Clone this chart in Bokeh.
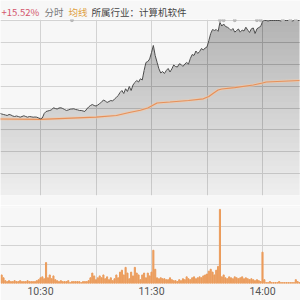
import numpy as np
from bokeh.plotting import figure
from bokeh.layouts import column
from bokeh.models import Range1d, FixedTicker, Grid
from bokeh.core.properties import value
from bokeh.embed import file_html
from bokeh.resources import INLINE

# ---------------- data ----------------
# minute index: 9:30 = 0, 11:30/13:00 = 120, 15:00 = 240
tick_minutes = [60, 120, 180]
tick_labels = ["10:30", "11:30", "14:00"]
grid_minutes = [60, 90, 120, 150, 180]

limit_pct = 15.52
header_texts = ["+15.52%", "分时", "均线", "所属行业：计算机软件"]

price_start = 38
price_pct = [
    -0.92, -1.06, -1.15, -1.24, -1.33, -1.15, -1.24, -1.42, -1.51, -1.42,
    -1.51, -1.63, -1.51, -1.38, -1.51, -1.63, -1.51, -1.56, -1.63, -1.60,
    -1.63, -1.77, -1.92, -1.77, -0.98, -0.62, -0.53, -0.44, -0.32, 0.04,
    -0.09, -0.18, 0.00, 0.04, -0.09, -0.27, -0.44, -0.35, -0.21, -0.18,
    -0.14, -0.27, -0.32, -0.44, -0.44, -0.53, -0.62, -0.18, 0.18, 0.44,
    0.62, 0.44, 0.35, 0.53, 0.80, 1.03, 1.42, 1.24, 0.98, 1.15,
    1.33, 1.24, 1.60, 1.86, 2.22, 2.75, 3.10, 2.57, 3.41, 2.93,
    3.81, 3.10, 4.08, 4.52, 4.88, 4.61, 5.18, 4.97, 6.65, 8.07,
    8.25, 8.69, 9.84, 11.09, 9.31, 8.12, 6.95, 6.21, 6.47, 6.12,
    6.65, 7.01, 6.39, 6.92, 7.63, 7.36, 7.27, 7.84, 7.72, 7.36,
    7.80, 8.07, 7.80, 8.78, 9.49, 9.31, 10.11, 9.67, 10.02, 10.55,
    10.29, 10.64, 10.82, 11.97, 13.21, 13.92, 13.75, 13.92, 13.57, 15.17,
    14.54, 14.90, 14.46, 14.33, 14.10, 13.75, 14.10, 13.44, 13.75, 14.01,
    13.44, 13.83, 13.66, 14.33, 13.83, 13.39, 14.05, 14.19, 13.21, 14.05,
    14.28, 14.46, 15.34, 15.52, 15.52, 15.43, 15.52, 15.52, 15.52, 15.52,
    15.52, 15.52, 15.43, 15.52, 15.52, 15.52, 15.52, 15.52, 15.43, 15.52,
    15.52, 15.52, 15.52,
]
price_min = list(range(price_start, price_start + len(price_pct)))

avg_min = [38, 60, 90, 101, 108, 114, 118, 120, 123, 130, 140, 148, 151,
           154, 156, 158, 165, 175, 180, 182, 200]
avg_pct = [-1.95, -2.00, -1.63, -1.33, -0.80, -0.40, 0.00, 0.35, 0.89, 1.06,
           1.33, 1.63, 2.04, 2.75, 3.19, 3.37, 3.63, 4.08, 4.43, 4.61, 4.88]

vol_start = 39
volume = [
    9, 6, 3, 2, 3, 2, 2, 3, 2, 2, 3, 2, 2, 2, 3, 2, 2, 2, 2, 3,
    4, 6, 7, 5, 22, 6, 9, 5, 8, 4, 3,
    2, 3, 2, 2, 2, 3, 1, 2, 2, 2, 2, 2, 1, 2, 2, 2, 3,
    6, 11, 8, 4,
    6, 8, 6, 9, 5, 7, 4, 6, 3, 5, 9, 6, 12, 14, 9, 17, 11, 5, 12, 8,
    17, 11, 9, 4, 9, 11, 6, 11, 8,
    12, 35, 15,
    6, 5, 6, 5, 5, 4, 4, 6, 4, 3, 3, 2, 4, 3, 5, 4, 7, 5, 4, 6,
    7, 5, 6, 7, 6, 8, 9, 10, 13, 15, 12, 9, 14, 18,
    78,
    7, 9, 6, 5, 7, 6, 5, 7, 6, 5, 6, 7, 5, 6, 5, 4, 5, 4, 3, 4, 3, 2,
    33, 4,
    1, 1, 2, 1, 1, 1, 1, 2, 1, 1, 1, 1, 1, 1, 1, 1,
    4, 2, 1,
]
vol_min = list(range(vol_start, vol_start + len(volume)))

event_min = [77, 157, 159, 165, 177, 179, 191, 195, 198]

# ---------------- style ----------------
BG = "#f7f7f7"
GRID = "#d3d3d3"
FONT = "Noto Sans CJK SC"
X0, X1 = 38.378, 200.54
W = 300

def base_fig(h, **kw):
    f = figure(width=W, height=h, output_backend="svg", toolbar_location=None,
               min_border_left=0, min_border_right=0, **kw)
    f.background_fill_color = BG
    f.border_fill_color = BG
    f.outline_line_color = None
    f.center = [r for r in f.center if not isinstance(r, Grid)]
    return f

# header
hdr = base_fig(19, x_range=Range1d(0, W), y_range=Range1d(0, 19),
               x_axis_location=None, y_axis_location=None,
               min_border_top=0, min_border_bottom=0)
hdr_x = [1, 44, 68, 91]
hdr_colors = ["#d4566c", "#777777", "#e0a040", "#444444"]
hdr.text(x=hdr_x, y=[8, 8, 8, 8], text=header_texts, text_color=hdr_colors,
         text_font=value(FONT), text_font_size="9.5px", text_baseline="middle",
         text_align="left")

# main
px = 31.04 / 175.0
main = base_fig(186, x_range=Range1d(X0, X1),
                y_range=Range1d(-limit_pct, limit_pct + px),
                x_axis_location=None, y_axis_location=None,
                min_border_top=0, min_border_bottom=10)
ygrid_ticks = [-limit_pct + k * limit_pct / 4 for k in range(9)]
main.add_layout(Grid(dimension=0, ticker=FixedTicker(ticks=grid_minutes),
                     grid_line_color=GRID))
main.add_layout(Grid(dimension=1, ticker=FixedTicker(ticks=ygrid_ticks),
                     grid_line_color=GRID))

pm = np.array(price_min, dtype=float)
pp = np.array(price_pct, dtype=float)
bottom = -limit_pct
main.varea(x=pm, y1=np.full_like(pp, bottom), y2=pp, fill_color="black",
           fill_alpha=0.028)
N = 30
for L in np.linspace(bottom, limit_pct, N, endpoint=False):
    main.varea(x=pm, y1=np.minimum(pp, L), y2=pp, fill_color="black",
               fill_alpha=0.006)

main.line(avg_min, avg_pct, line_color="#f3caa8", line_width=3, line_alpha=0.6)
main.line(avg_min, avg_pct, line_color="#e6905a", line_width=1.2)
main.line(price_min, price_pct, line_color="#4a4a4a", line_width=1)
main.scatter(event_min, [limit_pct + px * 0.3] * len(event_min), size=3,
             color="#b8b8b8")

# volume
vol = base_fig(95, x_range=main.x_range, y_range=Range1d(0, 80),
               x_axis_location="below", y_axis_location=None,
               min_border_top=2, min_border_bottom=0)
vol.add_layout(Grid(dimension=0, ticker=FixedTicker(ticks=grid_minutes),
                    grid_line_color=GRID))
vol.add_layout(Grid(dimension=1, ticker=FixedTicker(ticks=[0, 20, 40, 60, 80]),
                    grid_line_color=GRID))
vol.vbar(x=vol_min, top=volume, width=0.6, color="#eb9c5c")
ax = vol.xaxis[0]
ax.ticker = FixedTicker(ticks=tick_minutes)
ax.major_label_overrides = {m: l for m, l in zip(tick_minutes, tick_labels)}
ax.axis_line_color = None
ax.major_tick_line_color = None
ax.minor_tick_line_color = None
ax.major_tick_out = 0
ax.major_tick_in = 0
ax.major_label_standoff = 1
ax.major_label_text_font = "Roboto"
ax.major_label_text_font_size = "10.5px"
ax.major_label_text_color = "#555555"

layout = column(hdr, main, vol, spacing=0)
open("out.html", "w").write(file_html(layout, INLINE))
